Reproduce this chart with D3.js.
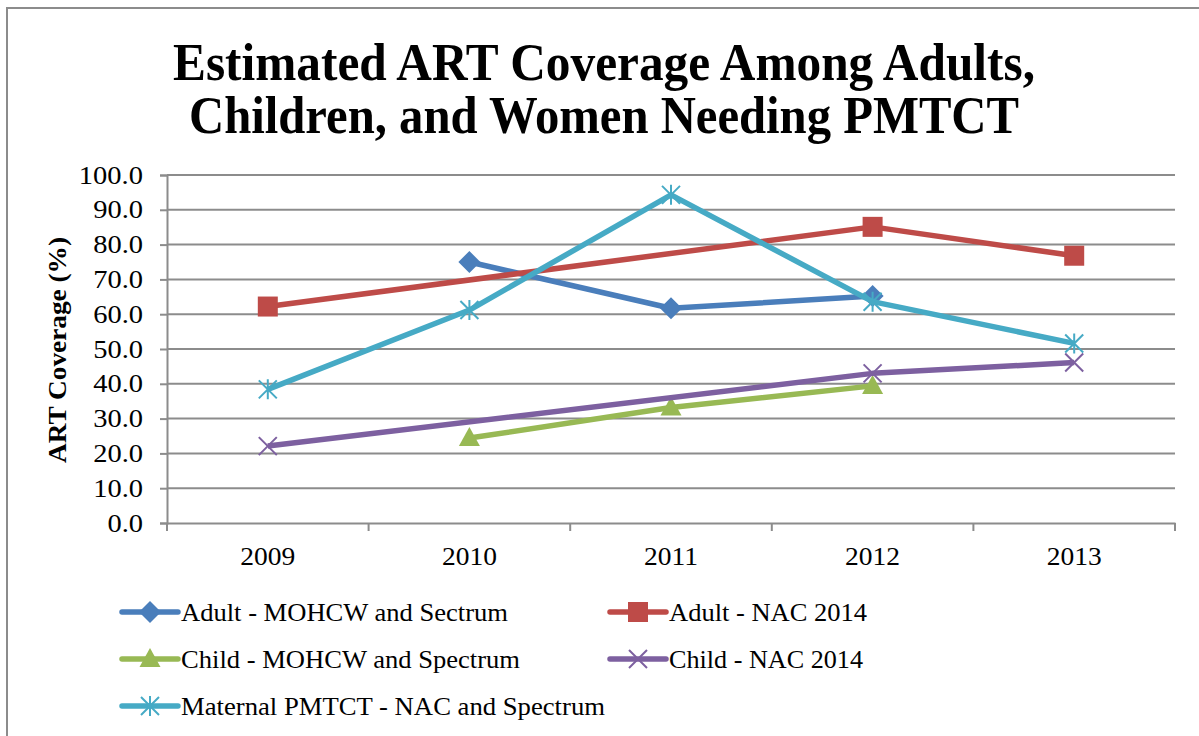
<!DOCTYPE html>
<html><head><meta charset="utf-8">
<script src="https://cdn.jsdelivr.net/npm/d3@7"></script>
<style>body{margin:0;background:#fff;} svg{display:block;}</style>
</head><body>
<svg id="c" width="1199" height="736"></svg>
<script>
const years = ["2009","2010","2011","2012","2013"];
const adultMOHCW  = [null, 75.0, 61.7, 65.2, null];
const adultNAC    = [62.2, null, null, 85.1, 76.8];
const childMOHCW  = [null, 24.4, 33.2, 39.4, null];
const childNAC    = [22.1, null, null, 43.0, 46.1];
const maternal    = [38.4, 61.2, 94.3, 63.6, 51.6];
const yTicks = [0,10,20,30,40,50,60,70,80,90,100];
const titleLines = ["Estimated ART Coverage Among Adults,", "Children, and Women Needing PMTCT"];
const yTitle = "ART Coverage (%)";

const series = [
  {name:"Adult - MOHCW and Sectrum", values:adultMOHCW, color:"#4a7ebb", marker:"diamond"},
  {name:"Adult - NAC 2014", values:adultNAC, color:"#be4b48", marker:"square"},
  {name:"Child - MOHCW and Spectrum", values:childMOHCW, color:"#98b954", marker:"triangle"},
  {name:"Child - NAC 2014", values:childNAC, color:"#7d60a0", marker:"x"},
  {name:"Maternal PMTCT - NAC and Spectrum", values:maternal, color:"#46aac5", marker:"star"}
];

const svg = d3.select("#c");
const serif = "'Liberation Serif', 'DejaVu Serif', serif";
const M = {left:167, right:1175, top:175, bottom:523};

// outer border
svg.append("rect").attr("x",7).attr("y",8).attr("width",1230).attr("height",760)
  .attr("fill","none").attr("stroke","#8c8c8c").attr("stroke-width",2);

function fit(sel, w){ sel.attr("textLength", w).attr("lengthAdjust","spacingAndGlyphs"); }
function widen(sel, k){ sel.each(function(){ const w=this.getComputedTextLength(); d3.select(this).attr("textLength", w*k).attr("lengthAdjust","spacingAndGlyphs"); }); }

// title
const tl = [{t:titleLines[0], y:80, w:862},{t:titleLines[1], y:133, w:830}];
tl.forEach(d=>{
  svg.append("text").attr("x",604).attr("y",d.y).attr("text-anchor","middle")
    .attr("font-family",serif).attr("font-weight","bold").attr("font-size",53)
    .attr("fill","#000").text(d.t).call(fit, d.w);
});

const x = d3.scaleBand().domain(years).range([M.left, M.right]);
const y = d3.scaleLinear().domain([0,100]).range([M.bottom, M.top]);

// gridlines
svg.append("g").selectAll("line").data(yTicks.filter(v=>v>0)).join("line")
  .attr("x1",M.left).attr("x2",M.right).attr("y1",d=>y(d)).attr("y2",d=>y(d))
  .attr("stroke","#8c8c8c").attr("stroke-width",2);

// y axis
const yAxis = svg.append("g").attr("transform",`translate(${M.left},0)`)
  .call(d3.axisLeft(y).tickValues(yTicks).tickFormat(d3.format(".1f")).tickSize(7).tickPadding(17));
yAxis.select(".domain").attr("stroke","#8c8c8c").attr("stroke-width",2);
yAxis.selectAll(".tick line").attr("stroke","#8c8c8c").attr("stroke-width",2);
yAxis.selectAll("text").attr("font-family",serif).attr("font-size",25).attr("fill","#000").call(widen,1.14);

// x axis
const xAxis = svg.append("g").attr("transform",`translate(0,${M.bottom})`)
  .call(d3.axisBottom(x).tickSize(0).tickPadding(24));
xAxis.select(".domain").attr("stroke","#8c8c8c").attr("stroke-width",2);
xAxis.selectAll("text").attr("font-family",serif).attr("font-size",25).attr("fill","#000").call(widen,1.1);
const bounds = years.map(v=>x(v)).concat([x(years[years.length-1])+x.bandwidth()]);
svg.append("g").selectAll("line").data(bounds).join("line")
  .attr("x1",d=>d).attr("x2",d=>d).attr("y1",M.bottom).attr("y2",M.bottom+8)
  .attr("stroke","#8c8c8c").attr("stroke-width",2);

// y title
svg.append("text").attr("transform","translate(66,350) rotate(-90)").attr("text-anchor","middle")
  .attr("font-family",serif).attr("font-weight","bold").attr("font-size",26).attr("fill","#000")
  .text(yTitle).call(fit,226);

function drawMarker(g, type, color, cx, cy, s){
  s = s||1;
  if(type==="diamond"){
    g.append("path").attr("d",`M${cx},${cy-11*s}L${cx+11*s},${cy}L${cx},${cy+11*s}L${cx-11*s},${cy}Z`).attr("fill",color);
  } else if(type==="square"){
    g.append("rect").attr("x",cx-10*s).attr("y",cy-10*s).attr("width",20*s).attr("height",20*s).attr("fill",color);
  } else if(type==="triangle"){
    g.append("path").attr("d",`M${cx},${cy-11*s}L${cx+10.5*s},${cy+8*s}L${cx-10.5*s},${cy+8*s}Z`).attr("fill",color);
  } else if(type==="x"){
    const r=9*s;
    g.append("path").attr("d",`M${cx-r},${cy-r}L${cx+r},${cy+r}M${cx-r},${cy+r}L${cx+r},${cy-r}`)
      .attr("stroke",color).attr("stroke-width",2).attr("fill","none");
  } else if(type==="star"){
    const r=9*s;
    g.append("path").attr("d",`M${cx-r},${cy-r}L${cx+r},${cy+r}M${cx-r},${cy+r}L${cx+r},${cy-r}M${cx},${cy-r-1}L${cx},${cy+r+1}`)
      .attr("stroke",color).attr("stroke-width",2).attr("fill","none");
  }
}

const cx = v => x(v) + x.bandwidth()/2;
series.forEach(s=>{
  const pts = years.map((yr,i)=>({yr, v:s.values[i]})).filter(d=>d.v!=null);
  const line = d3.line().x(d=>cx(d.yr)).y(d=>y(d.v));
  svg.append("path").datum(pts).attr("d",line).attr("fill","none")
    .attr("stroke",s.color).attr("stroke-width",5.5).attr("stroke-linejoin","round");
  const g = svg.append("g");
  pts.forEach(d=>drawMarker(g, s.marker, s.color, cx(d.yr), y(d.v)));
});

// legend
const legPos = [
  {lx:122, ty:612},{lx:610, ty:612},
  {lx:122, ty:659},{lx:610, ty:659},
  {lx:122, ty:706}
];
const legW = [327,198,339,194,424];
series.forEach((s,i)=>{
  const p = legPos[i];
  const g = svg.append("g");
  g.append("line").attr("x1",p.lx).attr("x2",p.lx+56).attr("y1",p.ty).attr("y2",p.ty)
    .attr("stroke",s.color).attr("stroke-width",5.5).attr("stroke-linecap","round");
  drawMarker(g, s.marker, s.color, p.lx+28, p.ty, 1);
  g.append("text").attr("x",p.lx+59).attr("y",p.ty).attr("dy","0.35em")
    .attr("font-family",serif).attr("font-size",26).attr("fill","#000").text(s.name).call(fit, legW[i]);
});
</script>
</body></html>
